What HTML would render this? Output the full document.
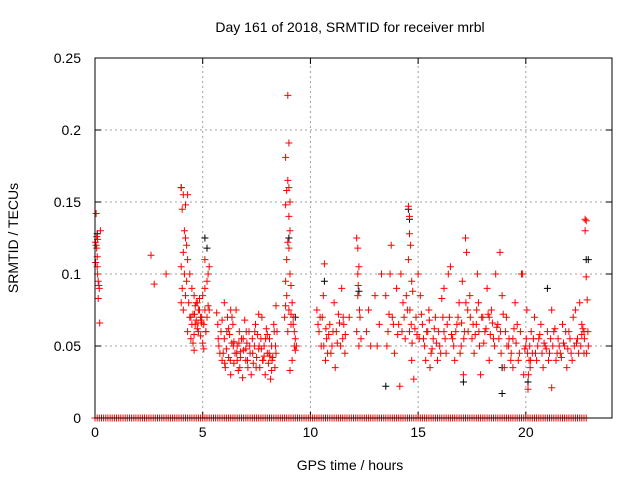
<!DOCTYPE html>
<html><head><meta charset="utf-8"><style>
body{margin:0;background:#fff;}
svg{display:block;font-family:"Liberation Sans",sans-serif;}
</style></head><body>
<svg id="chart" width="640" height="480" viewBox="0 0 640 480">
<text x="350" y="32" font-size="14" text-anchor="middle">Day 161 of 2018, SRMTID for receiver mrbl</text>
<text x="350" y="470" font-size="14" text-anchor="middle">GPS time / hours</text>
<text transform="translate(18,238) rotate(-90)" font-size="14" text-anchor="middle">SRMTID / TECUs</text>
<g id="grid"></g><g id="ticks"></g><g id="black"></g><g id="red"></g>
<rect x="95" y="58" width="517" height="360" fill="none" stroke="#000" stroke-width="1"/>
</svg>
<script>
const xTicks=[0,5,10,15,20];
const yTicks=[0,0.05,0.1,0.15,0.2,0.25];
const yTickLabels=["0","0.05","0.1","0.15","0.2","0.25"];
const redHours=[0.02,0.05,0.08,0.1,0.12,0.15,0.18,0.2,0.05,0.1,0.15,0.22,0.25,0.12,0.03,0.08,
2.6,2.75,3.3,
4.0,4.1,4.2,4.3,4.05,4.15,4.2,4.25,4.1,4.3,4.0,4.15,4.25,4.05,4.2,4.35,4.0,4.1,4.4,4.5,4.3,4.45,4.6,4.5,4.6,4.7,4.8,4.9,5.0,5.1,5.2,5.25,5.3,5.1,4.7,4.8,4.9,5.0,5.1,5.2,4.55,4.65,4.75,4.85,4.95,5.05,5.15,5.3,4.4,4.6,
5.7,5.75,5.8,5.85,5.9,6.0,6.05,6.1,6.15,6.2,6.25,6.3,6.35,6.4,6.45,6.5,6.55,6.6,6.65,6.7,6.75,6.8,6.85,6.9,6.95,7.0,7.05,7.1,7.15,7.2,7.3,7.35,7.4,7.45,7.5,7.55,7.6,7.65,7.7,7.75,7.8,7.85,7.9,7.95,8.0,8.05,8.1,8.15,8.2,8.25,8.3,8.35,8.4,8.45,6.0,6.3,7.6,8.4,5.9,6.2,6.6,7.0,7.25,8.0,8.2,6.45,6.75,7.85,5.65,
8.95,9.0,8.85,8.95,9.0,8.9,9.05,8.85,9.0,9.05,8.95,9.0,8.9,9.05,8.85,9.1,8.9,9.15,8.85,9.0,9.1,9.2,9.2,9.25,9.3,9.25,9.3,9.15,9.05,8.95,9.1,9.35,8.8,
10.3,10.4,10.5,10.55,10.6,10.65,10.7,10.75,10.8,10.9,11.0,11.1,11.15,11.2,11.3,11.4,11.45,11.5,11.55,11.6,12.15,12.2,12.25,12.2,12.3,12.15,12.25,12.2,12.6,12.7,13.1,13.2,13.5,13.6,13.7,13.75,13.8,13.9,14.0,14.1,14.15,14.2,14.3,14.4,14.5,14.55,14.6,14.6,14.65,14.55,14.7,14.75,14.6,14.7,14.8,14.9,15.0,15.1,15.2,15.3,15.35,15.4,15.5,15.55,15.6,15.7,15.8,15.9,16.0,16.1,16.2,16.3,16.4,16.5,16.45,16.6,16.7,16.8,16.9,17.0,17.05,17.1,17.15,17.2,17.25,17.3,17.4,17.5,17.6,17.7,17.75,17.8,17.85,17.9,18.0,18.1,18.2,18.3,18.4,18.5,18.6,18.7,18.8,18.85,18.9,19.0,19.05,19.1,19.2,19.3,19.4,19.5,19.6,19.7,19.8,19.85,19.9,20.0,20.1,20.15,20.2,20.25,20.3,20.4,20.5,20.6,20.7,20.8,20.9,21.0,21.1,21.2,21.3,21.4,21.5,21.6,21.7,21.8,21.9,22.0,22.1,22.2,22.3,22.4,22.5,22.55,22.6,22.7,22.75,22.8,22.75,22.8,22.85,22.9,22.7,21.2,16.2,18.3,19.4,20.05,15.05,13.3,12.8,11.8,13.0];
const redValues=[.122,.12,.118,.105,.1,.095,.092,.09,.142,.112,.083,.066,.13,.124,.108,.126,
.113,.093,.1,
.16,.155,.148,.155,.145,.13,.125,.12,.115,.11,.105,.1,.095,.09,.085,.08,.08,.075,.07,.065,.06,.055,.047,.09,.085,.08,.075,.07,.085,.09,.095,.1,.105,.11,.068,.06,.057,.052,.075,.07,.072,.078,.062,.083,.066,.048,.06,.075,.1,.058,
.065,.05,.045,.06,.04,.055,.035,.048,.07,.042,.058,.03,.052,.065,.038,.045,.075,.05,.033,.06,.042,.055,.028,.047,.068,.04,.052,.035,.06,.045,.055,.038,.05,.065,.042,.058,.048,.035,.055,.07,.04,.05,.03,.062,.045,.038,.055,.027,.05,.042,.065,.035,.045,.06,.08,.075,.072,.078,.068,.062,.04,.048,.03,.058,.033,.053,.046,.043,.073,
.224,.191,.181,.165,.16,.158,.15,.148,.14,.13,.122,.118,.11,.1,.095,.092,.085,.08,.078,.075,.072,.07,.065,.06,.055,.05,.047,.04,.033,.06,.065,.05,.07,
.075,.06,.05,.07,.085,.107,.04,.055,.045,.065,.05,.08,.035,.06,.072,.05,.09,.055,.065,.045,.125,.118,.105,.085,.07,.06,.05,.1,.06,.075,.05,.065,.085,.06,.1,.12,.07,.045,.09,.065,.022,.1,.08,.055,.075,.147,.14,.128,.12,.11,.095,.088,.06,.04,.027,.07,.1,.085,.065,.05,.04,.06,.075,.035,.045,.055,.07,.04,.05,.083,.06,.045,.1,.105,.07,.055,.04,.065,.08,.05,.095,.03,.06,.125,.115,.075,.085,.055,.045,.065,.1,.08,.05,.03,.07,.06,.09,.04,.075,.055,.1,.065,.115,.045,.085,.035,.06,.07,.05,.04,.055,.08,.065,.045,.1,.1,.03,.05,.02,.04,.035,.06,.045,.07,.04,.055,.065,.035,.05,.06,.045,.075,.06,.04,.055,.045,.065,.05,.035,.06,.045,.07,.075,.055,.08,.05,.065,.06,.138,.137,.13,.098,.082,.05,.045,.021,.09,.07,.035,.075,.055,.1,.05,.07,.085];
const extraHours=[5.72,5.95,6.12,6.28,6.42,6.58,6.72,6.88,7.02,7.18,7.32,7.48,7.62,7.78,7.92,8.08,8.22,8.38,6.02,6.36,6.68,7.08,7.42,7.72,8.12,8.32,
10.35,10.45,10.62,10.72,10.85,10.95,11.05,11.25,11.35,11.52,11.62,12.22,12.28,12.35,13.55,13.65,13.85,14.05,14.25,14.35,14.45,14.62,14.68,14.72,14.85,14.95,15.15,15.25,15.45,15.52,15.65,15.75,15.85,15.95,16.05,16.15,16.25,16.35,16.55,16.65,16.75,16.85,16.95,17.02,17.12,17.22,17.32,17.42,17.55,17.65,17.72,17.82,17.95,18.05,18.15,18.25,18.35,18.45,18.55,18.65,18.75,18.82,18.95,19.12,19.22,19.32,19.45,19.55,19.65,19.75,19.95,20.02,20.08,20.12,20.18,20.22,20.35,20.45,20.55,20.65,20.75,20.85,20.95,21.05,21.15,21.25,21.35,21.45,21.55,21.65,21.75,21.85,21.95,22.05,22.15,22.25,22.35,22.45,22.6,22.65,22.72,22.82,22.88,
4.45,4.55,4.65,4.75,4.85,4.95,5.05,5.15,5.25,4.62,4.78,4.92];
const extraValues=[.055,.045,.06,.04,.05,.045,.035,.055,.06,.05,.045,.035,.05,.04,.055,.045,.04,.05,.038,.07,.052,.04,.06,.048,.043,.06,
.065,.07,.05,.062,.058,.045,.06,.052,.066,.07,.058,.092,.075,.055,.05,.072,.065,.058,.06,.07,.085,.075,.065,.052,.062,.058,.072,.055,.06,.068,.048,.062,.052,.06,.045,.07,.055,.065,.058,.05,.06,.07,.045,.066,.055,.08,.06,.07,.065,.058,.075,.06,.07,.052,.062,.072,.058,.066,.05,.063,.055,.06,.072,.05,.055,.045,.062,.052,.04,.06,.048,.055,.045,.03,.05,.04,.055,.045,.05,.058,.045,.052,.048,.04,.055,.05,.062,.045,.05,.042,.052,.06,.048,.055,.04,.05,.052,.045,.058,.062,.055,.045,.06,.07,.052,.065,
.08,.075,.07,.065,.06,.078,.072,.066,.068,.085,.05,.09];
const blackHours=[4.0,5.1,5.2,14.6,14.55,0.1,9.0,20.1,18.9,18.9,17.1,22.8,22.9,13.5,10.65,12.25,21.0,9.3];
const blackValues=[.16,.125,.118,.138,.145,.128,.125,.025,.017,.035,.025,.11,.11,.022,.095,.088,.09,.07];
const zeroHours=[0,0.2,0.4,0.6,0.8,1,1.2,1.4,1.6,1.8,2,2.2,2.4,2.6,2.8,3,3.2,3.4,3.6,3.8,4,4.2,4.4,4.6,4.8,5,5.2,5.4,5.6,5.8,6,6.2,6.4,6.6,6.8,7,7.2,7.4,7.6,7.8,8,8.2,8.4,8.6,8.8,9,9.2,9.4,9.6,9.8,10,10.2,10.4,10.6,10.8,11,11.2,11.4,11.6,11.8,12,12.2,12.4,12.6,12.8,13,13.2,13.4,13.6,13.8,14,14.2,14.4,14.6,14.8,15,15.2,15.4,15.6,15.8,16,16.2,16.4,16.6,16.8,17,17.2,17.4,17.6,17.8,18,18.2,18.4,18.6,18.8,19,19.2,19.4,19.6,19.8,20,20.2,20.4,20.6,20.8,21,21.2,21.4,21.6,21.8,22,22.2,22.4,22.6,22.8,
0.1,0.3,0.5,0.7,0.9,1.1,1.3,1.5,1.7,1.9,2.1,2.3,2.5,2.7,2.9,3.1,3.3,3.5,3.7,3.9,4.1,4.3,4.5,4.7,4.9,5.1,5.3,5.5,5.7,5.9,6.1,6.3,6.5,6.7,6.9,7.1,7.3,7.5,7.7,7.9,8.1,8.3,8.5,8.7,8.9,9.1,9.3,9.5,9.7,9.9,10.1,10.3,10.5,10.7,10.9,11.1,11.3,11.5,11.7,11.9,12.1,12.3,12.5,12.7,12.9,13.1,13.3,13.5,13.7,13.9,14.1,14.3,14.5,14.7,14.9,15.1,15.3,15.5,15.7,15.9,16.1,16.3,16.5,16.7,16.9,17.1,17.3,17.5,17.7,17.9,18.1,18.3,18.5,18.7,18.9,19.1,19.3,19.5,19.7,19.9,20.1,20.3,20.5,20.7,20.9,21.1,21.3,21.5,21.7,21.9,22.1,22.3,22.5,22.7];
const NS="http://www.w3.org/2000/svg";
const X0=95,X1=612,Y0=418,Y1=58;
function xs(h){return X0+(h/24)*(X1-X0);}
function ys(v){return Y0-(v/0.25)*(Y0-Y1);}
function mk(tag,attrs,parent){const e=document.createElementNS(NS,tag);for(const k in attrs)e.setAttribute(k,attrs[k]);parent.appendChild(e);return e;}
const grid=document.getElementById('grid'),ticks=document.getElementById('ticks');
xTicks.forEach(t=>{const x=xs(t);
 if(t>0){const g=mk('line',{x1:x,y1:Y0,x2:x,y2:Y1,stroke:'#a0a0a0','stroke-dasharray':'2,3'},grid);
 
 }
 const tk=mk('path',{d:`M${x} ${Y0}v-6M${x} ${Y1}v6`,stroke:'#000'},ticks);
 
 
 const tl=mk('text',{x:x,y:Y0+19,'font-size':'14','text-anchor':'middle'},ticks);tl.textContent=t;
 
 });
yTicks.forEach((t,i)=>{const y=ys(t);
 if(t>0&&t<0.25){const g=mk('line',{x1:X0,y1:y,x2:X1,y2:y,stroke:'#a0a0a0','stroke-dasharray':'2,3'},grid);
 
 }
 const tk=mk('path',{d:`M${X0} ${y}h6M${X1} ${y}h-6`,stroke:'#000'},ticks);
 
 
 const tl=mk('text',{x:X0-14,y:y+5,'font-size':'14','text-anchor':'end'},ticks);tl.textContent=yTickLabels[i];
 
 });
function plus(hs,vs,color,g,name){let d='';for(let i=0;i<hs.length;i++){const x=xs(hs[i]).toFixed(1),y=ys(vs[i]).toFixed(1);d+=`M${x-3.5} ${y}h7M${x} ${y-3.5}v7`;}
 const p=mk('path',{d:d,stroke:color,'stroke-width':'1',fill:'none'},g);
 
 }
plus(blackHours,blackValues,'#000',document.getElementById('black'),'series-black-points');
plus(redHours,redValues,'#ff0000',document.getElementById('red'),'series-red-points');
plus(extraHours,extraValues,'#ff0000',document.getElementById('red'),'series-red-points-extra');
plus(zeroHours,zeroHours.map(()=>0),'#ff0000',document.getElementById('red'),'series-red-zero-points');
</script>
</body></html>
